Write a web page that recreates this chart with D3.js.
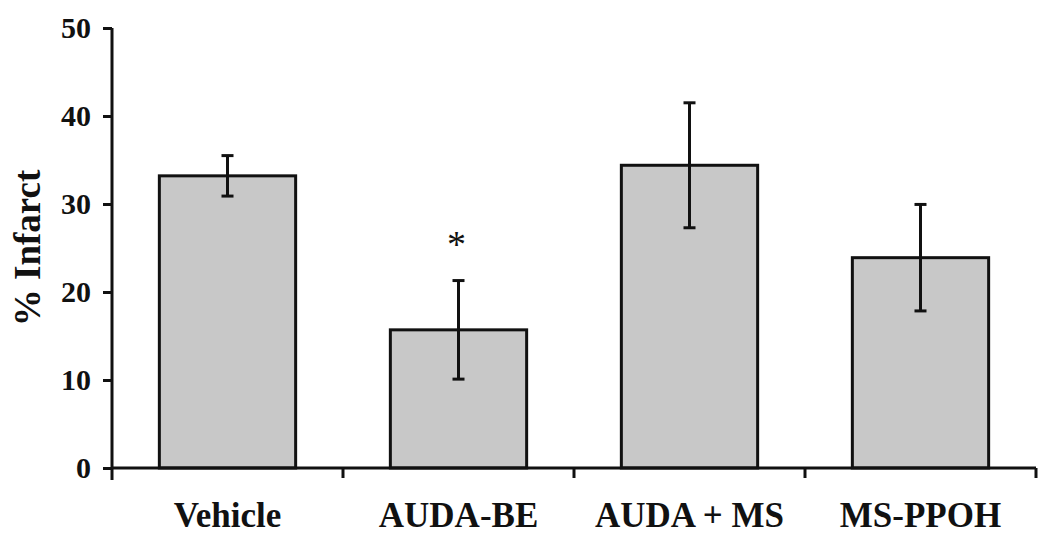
<!DOCTYPE html>
<html><head><meta charset="utf-8">
<script src="https://cdn.jsdelivr.net/npm/d3@7"></script>
<style>
html,body{margin:0;padding:0;background:#fff;}
text{font-family:"Liberation Serif","Times New Roman",serif;}
</style></head>
<body>
<svg id="c" width="1050" height="544"></svg>
<script>
const categories = ["Vehicle", "AUDA-BE", "AUDA + MS", "MS-PPOH"];
const means = [33.2, 15.7, 34.4, 23.9];
const errors = [2.3, 5.6, 7.1, 6.05];
const significant = [false, true, false, false];
const yTicks = [0, 10, 20, 30, 40, 50];
const yLabel = "% Infarct";

(function () {
const svg = d3.select("#c");
const mL = 112, mR = 1036, mT = 28, mB = 468;

const x = d3.scaleBand().domain(categories).range([mL, mR]).padding(0);
const y = d3.scaleLinear().domain([0, 50]).range([mB, mT]);
const barW = x.bandwidth() * 0.59;

const data = categories.map((c, i) => ({c, m: means[i], e: errors[i], s: significant[i]}));

// bars
svg.selectAll("rect.bar").data(data).enter().append("rect")
  .attr("class", "bar")
  .attr("x", d => x(d.c) + (x.bandwidth() - barW) / 2)
  .attr("width", barW)
  .attr("y", d => y(d.m))
  .attr("height", d => y(0) - y(d.m))
  .attr("fill", "#c8c8c8")
  .attr("stroke", "#111")
  .attr("stroke-width", 3);

// error bars
const eb = svg.selectAll("g.err").data(data).enter().append("g")
  .attr("stroke", "#111").attr("stroke-width", 3);
eb.append("line")
  .attr("x1", d => x(d.c) + x.bandwidth() / 2).attr("x2", d => x(d.c) + x.bandwidth() / 2)
  .attr("y1", d => y(d.m + d.e)).attr("y2", d => y(d.m - d.e));
eb.append("line")
  .attr("x1", d => x(d.c) + x.bandwidth() / 2 - 6).attr("x2", d => x(d.c) + x.bandwidth() / 2 + 6)
  .attr("y1", d => y(d.m + d.e)).attr("y2", d => y(d.m + d.e));
eb.append("line")
  .attr("x1", d => x(d.c) + x.bandwidth() / 2 - 6).attr("x2", d => x(d.c) + x.bandwidth() / 2 + 6)
  .attr("y1", d => y(d.m - d.e)).attr("y2", d => y(d.m - d.e));

// significance asterisk
svg.selectAll("text.sig").data(data.filter(d => d.s)).enter().append("text")
  .attr("class", "sig")
  .attr("x", d => x(d.c) + x.bandwidth() / 2 - 2)
  .attr("y", d => y(d.m + d.e) - 24)
  .attr("text-anchor", "middle")
  .attr("font-size", 38)
  .attr("fill", "#111")
  .text("*");

// y axis
const yAxis = svg.append("g").attr("transform", `translate(${mL},0)`)
  .call(d3.axisLeft(y).tickValues(yTicks).tickSize(9).tickPadding(12));
yAxis.select(".domain").attr("stroke", "#111").attr("stroke-width", 3)
  .attr("d", `M0,${mT}V${mB + 12}`);
yAxis.selectAll(".tick line").attr("stroke", "#111").attr("stroke-width", 3);
yAxis.selectAll(".tick text").attr("font-size", 30).attr("font-weight", "bold")
  .attr("fill", "#111").attr("dy", "0.33em")
  .style("font-family", '"Liberation Serif","Times New Roman",serif');

// x axis
const xAxis = svg.append("g").attr("transform", `translate(0,${mB})`)
  .call(d3.axisBottom(x).tickSize(0).tickPadding(34));
xAxis.select(".domain").attr("stroke", "#111").attr("stroke-width", 3)
  .attr("d", `M${mL},0H${mR}`);
xAxis.selectAll(".tick text").attr("font-size", 35).attr("font-weight", "bold")
  .attr("fill", "#111").attr("dy", "0.71em")
  .style("font-family", '"Liberation Serif","Times New Roman",serif');
// boundary tick marks between categories
const bounds = categories.slice(1).map(c => x(c)).concat([mR]);
xAxis.selectAll("line.bt").data(bounds).enter().append("line")
  .attr("class", "bt")
  .attr("x1", d => d).attr("x2", d => d)
  .attr("y1", 0).attr("y2", 10)
  .attr("stroke", "#111").attr("stroke-width", 3);

// y label
svg.append("text")
  .attr("transform", `translate(40,${(mT + mB) / 2}) rotate(-90)`)
  .attr("text-anchor", "middle")
  .attr("font-size", 37)
  .attr("font-weight", "bold")
  .attr("fill", "#111")
  .text(yLabel);
})();
</script>
</body></html>
